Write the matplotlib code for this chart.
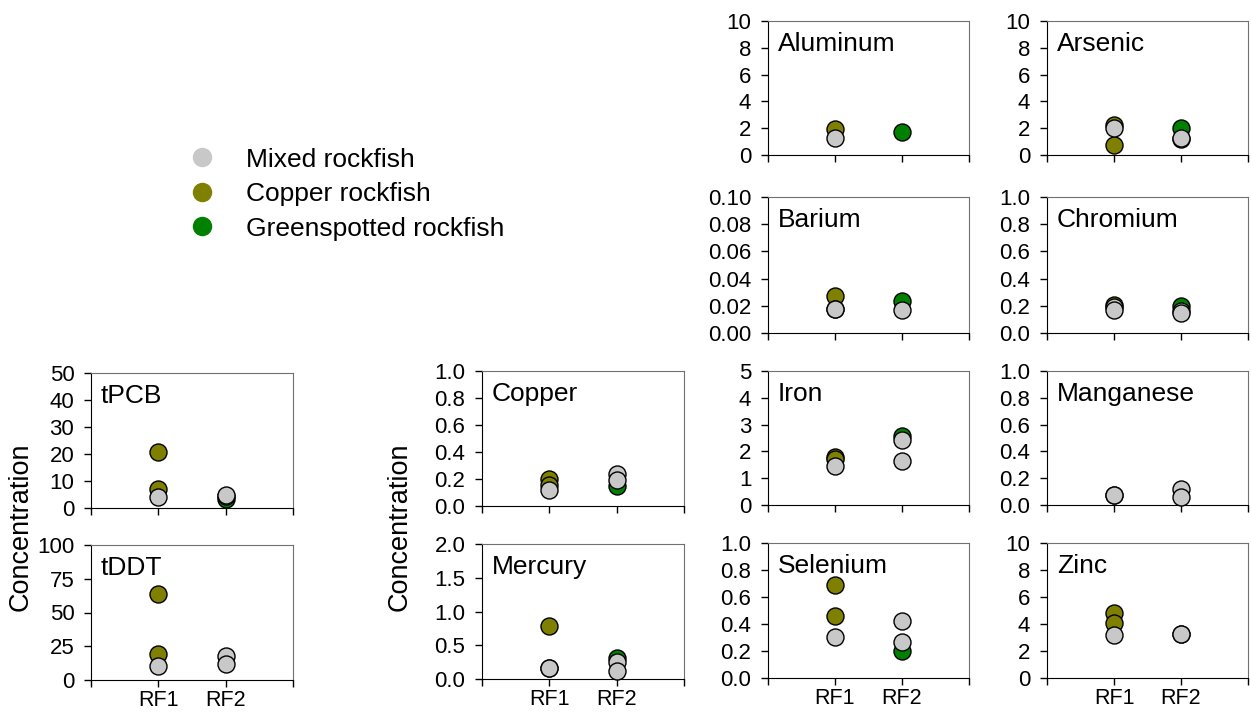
import matplotlib
matplotlib.use("Agg")
import matplotlib.pyplot as plt
from matplotlib.lines import Line2D
from matplotlib.ticker import FormatStrFormatter

plt.rcParams["font.family"] = ["Liberation Sans", "DejaVu Sans"]

sites = ["RF1", "RF2"]
species = ["Mixed rockfish", "Copper rockfish", "Greenspotted rockfish"]
species_colors = ["#c8c8c8", "#808000", "#008000"]

# values per analyte: [RF1 values, RF2 values]
mixed = {
    "Aluminum": [[1.3], []],
    "Arsenic": [[2.05], [1.2, 1.3]],
    "Barium": [[0.018, 0.0179], [0.0172]],
    "Chromium": [[0.19, 0.17], [0.16, 0.147]],
    "Iron": [[1.46], [2.43, 1.63]],
    "Manganese": [[0.075, 0.077], [0.119, 0.062]],
    "Selenium": [[0.306], [0.425, 0.27]],
    "Zinc": [[3.16], [3.25, 3.28]],
    "Copper": [[0.121], [0.24, 0.195]],
    "Mercury": [[0.16, 0.163], [0.251, 0.118]],
    "tPCB": [[4.2], [4.5, 4.9]],
    "tDDT": [[10.6], [17.7, 12.1]],
}
copper = {
    "Aluminum": [[1.95], []],
    "Arsenic": [[2.25, 0.72], []],
    "Barium": [[0.027], []],
    "Chromium": [[0.208], []],
    "Iron": [[1.78, 1.70], []],
    "Manganese": [[], []],
    "Selenium": [[0.69, 0.457], []],
    "Zinc": [[4.85, 4.05], []],
    "Copper": [[0.198, 0.158], []],
    "Mercury": [[0.778], []],
    "tPCB": [[20.9, 6.9], []],
    "tDDT": [[63.8, 19.5], []],
}
greenspotted = {
    "Aluminum": [[], [1.68]],
    "Arsenic": [[], [1.98]],
    "Barium": [[], [0.0235]],
    "Chromium": [[], [0.196]],
    "Iron": [[], [2.57]],
    "Manganese": [[], []],
    "Selenium": [[], [0.203]],
    "Zinc": [[], []],
    "Copper": [[], [0.146]],
    "Mercury": [[], [0.315]],
    "tPCB": [[], [3.3]],
    "tDDT": [[], []],
}

# y-axis limit, tick step and tick format for each analyte
y_max = {"Aluminum": 10, "Arsenic": 10, "Barium": 0.1, "Chromium": 1.0,
         "Iron": 5, "Manganese": 1.0, "Selenium": 1.0, "Zinc": 10,
         "Copper": 1.0, "Mercury": 2.0, "tPCB": 50, "tDDT": 100}
y_step = {"Aluminum": 2, "Arsenic": 2, "Barium": 0.02, "Chromium": 0.2,
          "Iron": 1, "Manganese": 0.2, "Selenium": 0.2, "Zinc": 2,
          "Copper": 0.2, "Mercury": 0.5, "tPCB": 10, "tDDT": 25}
y_fmt = {"Aluminum": "%d", "Arsenic": "%d", "Barium": "%.2f", "Chromium": "%.1f",
         "Iron": "%d", "Manganese": "%.1f", "Selenium": "%.1f", "Zinc": "%d",
         "Copper": "%.1f", "Mercury": "%.1f", "tPCB": "%d", "tDDT": "%d"}

W, H = 1251, 713
# panel boxes in pixels: left, top, right, bottom
boxes = {
    "Aluminum": (768, 21, 969, 155),
    "Arsenic": (1047, 21, 1248, 155),
    "Barium": (768, 197, 969, 333),
    "Chromium": (1047, 197, 1248, 333),
    "Iron": (768, 371, 969, 505),
    "Manganese": (1047, 371, 1248, 505),
    "Selenium": (768, 543, 969, 678),
    "Zinc": (1047, 543, 1248, 678),
    "Copper": (482, 371, 684, 506),
    "Mercury": (482, 544, 684, 679),
    "tPCB": (91, 373, 293, 508),
    "tDDT": (91, 545, 293, 680),
}
bottom_row = ["Selenium", "Zinc", "Mercury", "tDDT"]

fig = plt.figure(figsize=(W / 100, H / 100), dpi=100)

for name, (l, t, r, b) in boxes.items():
    ax = fig.add_axes([l / W, 1 - b / H, (r - l) / W, (b - t) / H])
    for data, color in [(greenspotted, species_colors[2]),
                        (copper, species_colors[1]),
                        (mixed, species_colors[0])]:
        for i, vals in enumerate(data[name]):
            ax.scatter([i + 1] * len(vals), vals, s=150, c=color,
                       edgecolors="black", linewidths=1.0, zorder=3,
                       clip_on=False)
    ax.set_xlim(0, 3)
    ax.set_ylim(0, y_max[name])
    n = int(round(y_max[name] / y_step[name]))
    ax.set_yticks([k * y_step[name] for k in range(n + 1)])
    ax.yaxis.set_major_formatter(FormatStrFormatter(y_fmt[name]))
    ax.set_xticks([0, 1, 2, 3])
    if name in bottom_row:
        ax.set_xticklabels([""] + sites + [""])
    else:
        ax.set_xticklabels([])
    ax.tick_params(direction="out", length=5, width=1, labelsize=16,
                   colors="black")
    ax.tick_params(axis="y", pad=7)
    ax.tick_params(axis="x", pad=2.5, labelsize=15.5)
    for side in ["top", "right"]:
        ax.spines[side].set_color("#707070")
    for side in ["left", "bottom"]:
        ax.spines[side].set_color("black")
    ax.text(0.05, 0.83, name, transform=ax.transAxes, fontsize=19,
            ha="left", va="center")

fig.text(21 / W, 1 - 527 / H, "Concentration", rotation=90, fontsize=19.5,
         ha="center", va="center")
fig.text(400 / W, 1 - 527 / H, "Concentration", rotation=90, fontsize=19.5,
         ha="center", va="center")

handles = [Line2D([], [], linestyle="none", marker="o", markersize=13,
                  markerfacecolor=c, markeredgecolor=c) for c in species_colors]
fig.legend(handles, species, loc="upper left",
           bbox_to_anchor=(180 / W, 1 - 137 / H), frameon=False,
           fontsize=19, handletextpad=1.2, labelspacing=0.4,
           borderaxespad=0, handlelength=0.9)

fig.savefig("out.png", dpi=100)
